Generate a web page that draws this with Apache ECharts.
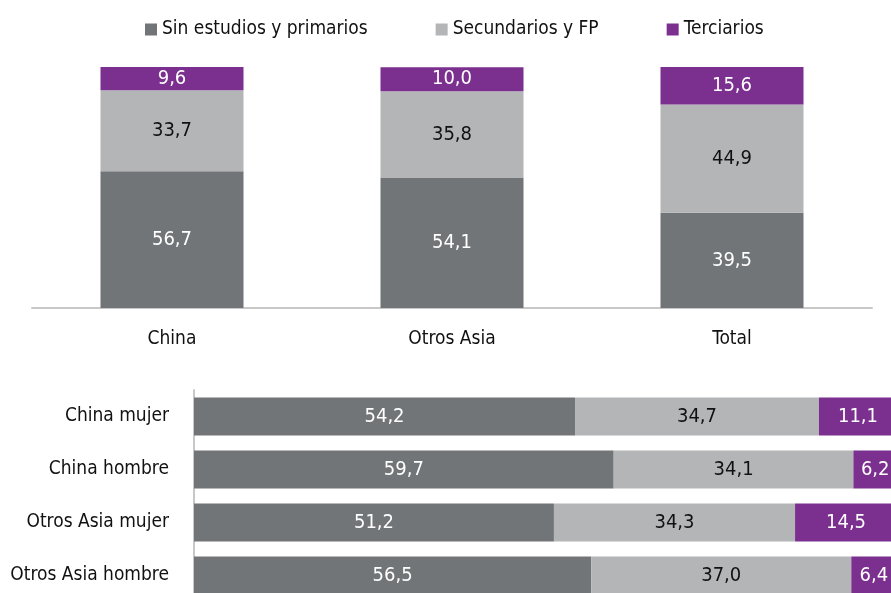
<!DOCTYPE html>
<html lang="es">
<head>
    <meta charset="UTF-8">
    <title>Nivel de estudios</title>
    <script src="https://cdn.jsdelivr.net/npm/echarts@6/dist/echarts.min.js"></script>
    <style>
        html, body { margin: 0; padding: 0; background: #fff; }
    </style>
</head>
<body>
<div id="main" style="width: 891px;height: 593px"></div>
<script type="text/javascript">
    // datos
    var seriesNames = ['Sin estudios y primarios', 'Secundarios y FP', 'Terciarios'];
    var topCats = ['China', 'Otros Asia', 'Total'];
    var topSin = [56.7, 54.1, 39.5];
    var topSec = [33.7, 35.8, 44.9];
    var topTer = [9.6, 10.0, 15.6];
    var botCats = ['China mujer', 'China hombre', 'Otros Asia mujer', 'Otros Asia hombre'];
    var botSin = [54.2, 59.7, 51.2, 56.5];
    var botSec = [34.7, 34.1, 34.3, 37.0];
    var botTer = [11.1, 6.2, 14.5, 6.4];

    var colors = ['#727578', '#b3b5b6', '#7b2f8e'];
    var labelColors = ['#fff', '#111', '#fff'];
    var font = '"Liberation Sans Narrow", "DejaVu Sans Condensed", sans-serif';

    var myChart = echarts.init(document.getElementById('main'));

    function fmt(p) {
        return p.value.toFixed(1).replace('.', ',');
    }

    function makeSeries(i, data, axisIdx, horizontal) {
        return {
            name: seriesNames[i],
            type: 'bar',
            stack: horizontal ? 'bot' : 'top',
            xAxisIndex: axisIdx,
            yAxisIndex: axisIdx,
            barWidth: horizontal ? 38 : 143,
            data: data,
            itemStyle: {color: colors[i]},
            label: {
                show: true,
                position: 'inside',
                formatter: fmt,
                color: labelColors[i],
                fontFamily: font,
                fontSize: 20
            }
        };
    }

    var option = {
        animation: false,
        textStyle: {fontFamily: font},
        legend: {
            top: 15,
            left: 140,
            itemWidth: 12,
            itemHeight: 12,
            itemGap: 68,
            icon: 'rect',
            textStyle: {fontSize: 19, color: '#111', fontFamily: font},
            data: seriesNames
        },
        grid: [
            {left: 32, right: 19, top: 67, height: 241, outerBoundsMode: 'none'},
            {left: 194, width: 703, top: 390, height: 212, outerBoundsMode: 'none'}
        ],
        xAxis: [{
            type: 'category',
            gridIndex: 0,
            data: topCats,
            axisLine: {lineStyle: {color: '#c8c8c8', width: 2}},
            axisTick: {show: false},
            axisLabel: {fontSize: 19, color: '#111', margin: 22, fontFamily: font}
        }, {
            type: 'value',
            gridIndex: 1,
            min: 0,
            max: 100,
            show: false
        }],
        yAxis: [{
            type: 'value',
            gridIndex: 0,
            min: 0,
            max: 100,
            show: false
        }, {
            type: 'category',
            gridIndex: 1,
            inverse: true,
            data: botCats,
            axisLine: {show: true, lineStyle: {color: '#c8c8c8', width: 2}},
            axisTick: {show: false},
            axisLabel: {fontSize: 19, color: '#111', margin: 25, fontFamily: font}
        }],
        series: [
            makeSeries(0, topSin, 0, false),
            makeSeries(1, topSec, 0, false),
            makeSeries(2, topTer, 0, false),
            makeSeries(0, botSin, 1, true),
            makeSeries(1, botSec, 1, true),
            makeSeries(2, botTer, 1, true)
        ]
    };
    myChart.setOption(option);
</script>
</body>
</html>
